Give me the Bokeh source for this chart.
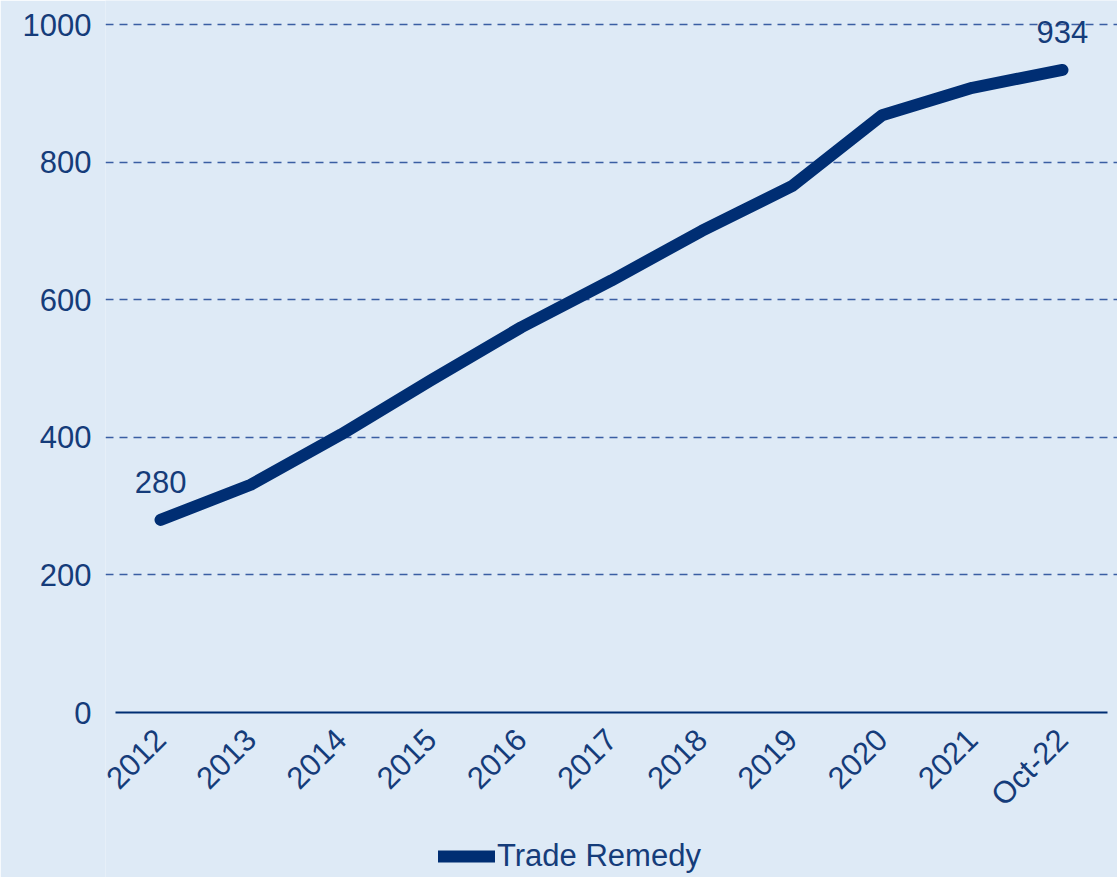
from bokeh.plotting import figure
from bokeh.models import ColumnDataSource, Legend, LegendItem, Range1d, FactorRange
from bokeh.core.properties import value
from bokeh.embed import file_html
from bokeh.resources import INLINE
import math

categories = ["2012", "2013", "2014", "2015", "2016", "2017", "2018", "2019", "2020", "2021", "Oct-22"]
trade_remedy = [280, 331, 404, 483, 560, 628, 700, 765, 868, 908, 934]
y_ticks = [0, 200, 400, 600, 800, 1000]
label_idx = [0, len(categories) - 1]

BG = "#DEEAF6"
NAVY = "#002E73"
TEXT = "#153C7A"
GRID = "#3A5EA3"
FONT = "Liberation Sans"

W, H = 1117, 877
LEFT, RIGHT = 105, 0
Y_TOP_PX, Y_ZERO_PX = 24, 712          # pixel rows of 1000 and 0
scale = (Y_ZERO_PX - Y_TOP_PX) / 1000.0
y_start = -(H - Y_ZERO_PX) / scale
y_end = 1000 + Y_TOP_PX / scale

xr = FactorRange(*categories, range_padding=0.11, range_padding_units="absolute")
p = figure(width=W, height=H, x_range=xr, y_range=Range1d(y_start, y_end),
           output_backend="svg", toolbar_location=None,
           min_border_left=LEFT, min_border_right=RIGHT, min_border_top=0, min_border_bottom=0)
p.background_fill_color = BG
p.border_fill_color = BG
p.outline_line_color = None

src = ColumnDataSource(dict(x=categories, y=trade_remedy))
r = p.line("x", "y", source=src, line_width=12, line_color=NAVY, line_cap="round", line_join="round")

lab = ColumnDataSource(dict(x=[categories[i] for i in label_idx],
                            y=[trade_remedy[i] for i in label_idx],
                            t=[str(trade_remedy[i]) for i in label_idx]))
p.text("x", "y", text="t", source=lab, text_font=value(FONT), text_font_size="31px",
       text_color=TEXT, text_align="center", text_baseline="alphabetic", y_offset=-38)

# grid
p.xgrid.grid_line_color = None
p.ygrid.ticker = y_ticks[1:]
p.ygrid.grid_line_color = GRID
p.ygrid.grid_line_width = 1.5
p.ygrid.grid_line_dash = "8 6"

# y axis
p.yaxis.ticker = y_ticks
p.yaxis.axis_line_color = None
p.yaxis.major_tick_line_color = None
p.yaxis.minor_tick_line_color = None
p.yaxis.major_tick_out = 0
p.yaxis.major_tick_in = 0
p.yaxis.major_label_standoff = 14
p.yaxis.major_label_text_font = FONT
p.yaxis.major_label_text_font_size = "31px"
p.yaxis.major_label_text_color = TEXT

# x axis, fixed at y = 0 inside the frame
p.xaxis.fixed_location = 0
p.xaxis.bounds = (0, len(categories))
p.xaxis.axis_line_color = NAVY
p.xaxis.axis_line_width = 2
p.xaxis.major_tick_line_color = None
p.xaxis.major_tick_out = 0
p.xaxis.major_tick_in = 0
p.xaxis.major_label_standoff = 22
p.xaxis.major_label_orientation = math.pi / 4
p.xaxis.major_label_text_font = FONT
p.xaxis.major_label_text_font_size = "31px"
p.xaxis.major_label_text_color = TEXT

legend = Legend(items=[LegendItem(label="Trade Remedy", renderers=[r])],
                location=(333, 3), orientation="horizontal",
                background_fill_alpha=0, border_line_color=None,
                label_text_font=FONT, label_text_font_size="31px", label_text_color=TEXT,
                glyph_width=57, glyph_height=28, label_height=28,
                label_standoff=2, padding=0, margin=0, spacing=0)
p.add_layout(legend, "center")

open("out.html", "w").write(file_html(p, INLINE))
